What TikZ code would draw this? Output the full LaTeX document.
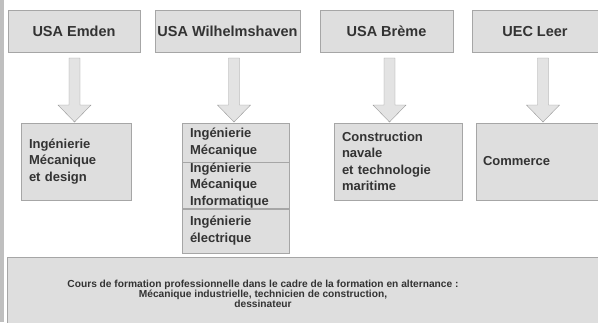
\documentclass[tikz,border=0pt]{standalone}
\usepackage{fontspec}
\setmainfont{Liberation Sans}
\usetikzlibrary{positioning}

\begin{document}
\begin{tikzpicture}[x=1pt, y=-1pt,
        school/.style={rectangle, draw=black!35, fill=black!13, text=black!80, font=\bfseries\fontsize{14.5}{17}\selectfont, minimum height=42pt, inner sep=2pt, text height=10.5pt, text depth=0pt},
        course/.style={rectangle, draw=black!35, fill=black!13, text=black!80, font=\bfseries\fontsize{13}{16.5}\selectfont, align=left, inner xsep=8pt, inner ysep=0pt},
        panel/.style={rectangle, draw=black!35, fill=black!13, anchor=north west},
        flowarrow/.pic={
            \draw[draw=black!40, fill=black!11] (-5.5,0) -- (5.5,0) -- (5.5,47) -- (16.5,47) -- (0,64) -- (-16.5,47) -- (-5.5,47) -- cycle;
        }
    ]
    \useasboundingbox (0,0) rectangle (598,322);
    \fill[black!25] (0,0) rectangle (4,322);

    % Schools
    \node[school, minimum width=132pt] (emden) at (74,31) {USA Emden};
    \node[school, minimum width=145pt] (wilhelm) at (227.5,31) {USA Wilhelmshaven};
    \node[school, minimum width=133pt] (breme) at (386.5,31) {USA Brème};
    \node[school, minimum width=126pt] (leer) at (535,31) {UEC Leer};

    % Courses
    \node[course, text width=94pt, minimum height=77pt] (emdenprog) at (76,161.5) {Ingénierie\\Mécanique\\et design};
    \node[course, text width=91pt, minimum height=39pt] (wmeca) at (235.5,142.5) {Ingénierie\\Mécanique};
    \node[course, text width=91pt, minimum height=46pt, below=0pt of wmeca] (winfo) {Ingénierie\\Mécanique\\Informatique};
    \node[course, text width=91pt, minimum height=44pt, below=0pt of winfo] (welec) {Ingénierie\\électrique};
    \node[course, text width=112pt, minimum height=77pt] (bremeprog) at (398,161.5) {Construction\\navale\\et technologie\\maritime};
    \node[course, text width=108pt, inner xsep=7pt, minimum height=77pt] (leerprog) at (537,161.5) {Commerce};

    % Arrows
    \pic (emdenarrow) at (74.5,58) {flowarrow};
    \pic (wilhelmarrow) at (234,58) {flowarrow};
    \pic (bremearrow) at (389.5,58) {flowarrow};
    \pic (leerarrow) at (543,58) {flowarrow};

    % Dual training
    \node[panel, minimum width=595pt, minimum height=70pt] (trainbox) at (7,257) {};
    \node[text=black!80, font=\bfseries\fontsize{10.2}{10}\selectfont, align=center] (trainlabel) at (263,294.3) {Cours de formation professionnelle dans le cadre de la formation en alternance :\\Mécanique industrielle, technicien de construction,\\dessinateur};
\end{tikzpicture}
\end{document}
